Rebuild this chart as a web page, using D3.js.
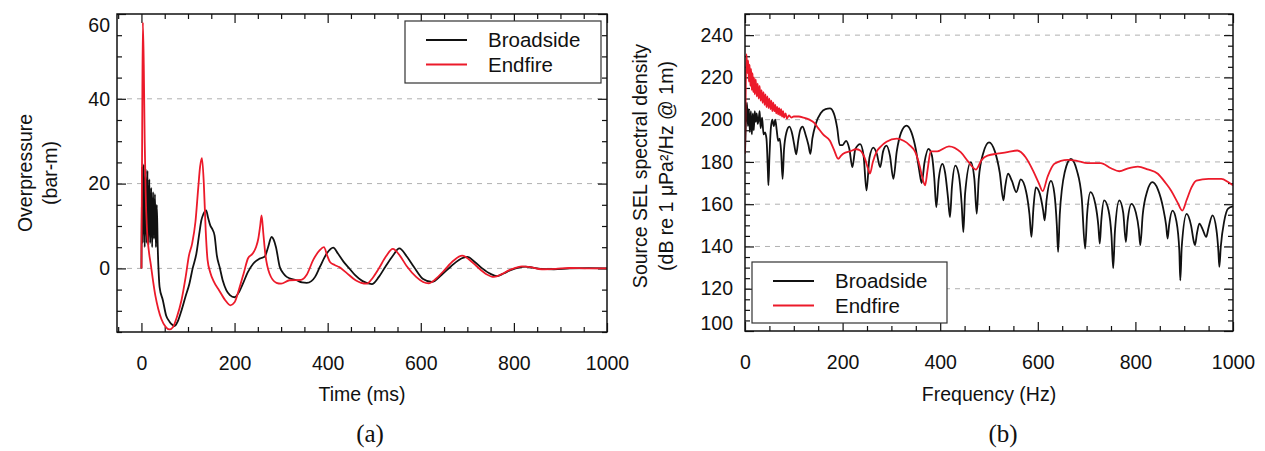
<!DOCTYPE html>
<html><head><meta charset="utf-8">
<script src="https://cdn.jsdelivr.net/npm/d3@7"></script>
<style>
body{margin:0;background:#fff;}
svg text{font-family:"Liberation Sans",Arial,Helvetica,sans-serif;fill:#111;}
</style></head><body>
<svg id="chart" width="1265" height="451"></svg>
<script>
// ---------- data ----------
const seriesNames = ["Broadside", "Endfire"];
const timeTicks = [0, 200, 400, 600, 800, 1000];
const pressureTicks = [0, 20, 40, 60];
const freqTicks = [0, 200, 400, 600, 800, 1000];
const selTicks = [100, 120, 140, 160, 180, 200, 220, 240];
const panelLabels = ["(a)", "(b)"];

// Overpressure (bar-m) vs time (ms)
const broadsideTime = [[0,0],[1.5,24],[3,6],[5,24.5],[7,5],[9,23.5],[11,6],[13,23],[15,5.5],[17,21],[19,6],[21,19],[23,5],[25,18],[27,7],[29,17.5],[31,5],[33,15],[35,5],[37,-1],[39,-4.4],[46,-7.5],[53,-11.1],[60,-12.5],[64,-13.1],[71,-13.6],[78,-12.5],[85.5,-10.1],[95,-6.5],[103,-3.6],[110,0],[118,3.5],[124,8],[128.6,11.3],[133,12.8],[139,13.7],[143,12],[148,10.1],[152,9.3],[157,7.8],[162,3],[168,0.3],[175,-3],[182.5,-5.2],[190,-6.3],[200,-6.8],[210,-5.5],[218,-3.6],[228,-1],[240,1.1],[254,2.3],[265,2.8],[272,5],[279.5,7.4],[284,6.8],[289,5],[297,0.4],[305,-1.2],[312,-2],[333,-2.8],[345,-3.3],[355,-3.4],[365,-3],[373,-2],[383.5,0.4],[398,3.5],[412,4.9],[422,3.5],[434,1.6],[445,0.2],[459,-1.6],[475,-3],[495,-3.7],[510,-2],[524,0.4],[540,3],[554,4.7],[570,2.8],[585,0.4],[605,-2.5],[624,-3.2],[645,-1.5],[664,0.4],[682,2],[700,2.7],[716,1.5],[732,0],[750,-1.3],[764,-1.8],[778,-1.2],[793,-0.4],[810,0.2],[825,0.4],[840,0.2],[857,-0.1],[886,-0.2],[920,0],[960,0.05],[1000,0]];
const endfireTime = [[0,0],[1.5,30],[3,58],[5,48],[7,30],[9,18],[12,9],[16,4],[20,1],[25,-3],[30,-6.5],[36,-9.5],[43,-12],[52,-13.8],[60,-14.4],[68,-13.8],[76,-11.5],[86,-7.5],[95,-2],[102,3],[109,5.9],[116,11],[122,19],[126,24],[130,26],[134,20],[138,9],[142,2],[148,-1],[155,-3],[167,-5.2],[180,-7.5],[191,-8.7],[200,-8],[211,-4.4],[220,-1],[229,2.4],[239,3.5],[246,5],[251,7],[255,10],[258,12.5],[262,8],[266,3.5],[275,-1.2],[290,-3.4],[300,-3.6],[318,-2.8],[343,-2.7],[355,-1.5],[369,2],[383,4.3],[392,5],[399,3],[405,1.5],[415,0.8],[425,0.3],[440,-1],[460,-2.8],[472,-3.4],[484,-3.6],[497,-2.2],[510,0],[525,2.8],[540,4.6],[555,3],[570,0.5],[590,-2],[605,-3.2],[617,-3.5],[632,-2.5],[650,-0.5],[670,1.8],[689,3],[705,2],[720,0.5],[740,-1.3],[757,-2],[775,-1.3],[790,-0.4],[805,0.2],[818,0.5],[835,0.3],[860,-0.2],[890,-0.1],[920,0.1],[960,0],[1000,0]];

// Source SEL spectral density (dB) vs frequency (Hz)
const broadsideFreq = [[0,184],[2,200],[4,208],[6,197],[8,205],[10,194],[12,204],[14,193],[16,203],[18,195],[20,204],[22,199],[24,203],[26,198],[28,200],[30,204],[32,196],[35,201],[38,193],[41,194],[44,191],[47,175],[48,169],[50,182],[53,196],[56,200],[59,197],[62,200],[65,195],[68,190],[71,191],[74,185],[77,172],[80,186],[85,194],[91,196.7],[97,193],[101,188],[105,183.6],[109,190],[113,195],[118,196.7],[124,193],[130,188],[134,183.8],[138,191],[145,198],[155,203],[165,205],[174,205.3],[182,203],[189,196],[194,188],[200,188],[207,190],[214,186],[220,177.5],[226,186],[236,188.4],[243,183],[249,166.5],[255,182],[263,186.8],[270,184],[277,177.5],[283,185],[290,187.7],[297,183],[304,172],[311,185],[320,194],[331,197.2],[341,194],[350,186],[357,176],[362,170],[368,180],[376,186.2],[383,183],[388,172],[392,158.6],[397,172],[404.5,179.1],[410,175],[416,163],[420,153.9],[424,168],[431,178.3],[438,174],[444,160],[447.5,146.8],[451,165],[462.6,179.9],[470,172],[474.9,155.5],[479,172],[488,184],[500,189.3],[512,185],[522,175],[529.6,161.8],[533,168],[539,174.4],[547,171],[556,165.7],[565,171.7],[576,166],[583,155],[587,144.5],[591,158],[596,168],[604,165],[611,157],[614,152.4],[618,162],[627,171],[634,165],[639,150],[641.6,137.4],[645,155],[655,175],[667.7,181.4],[680,176],[690,163],[697,139],[701,155],[708,165.7],[718,160],[724,150],[727,141.4],[730,152],[736,161.8],[745,157],[751,145],[754.5,129.6],[758,147],[767,161.8],[775,156],[780.5,142.1],[784,152],[792,160.2],[801,156],[807,148],[810,140.6],[815,155],[824,166],[835,170.4],[846,167],[857,158],[863,150],[866,143.7],[869,150],[876,157],[884,152],[890,138],[892,124],[895,140],[905,155.4],[914,150],[920,142],[922,140.6],[926,146],[931,150.8],[938,148],[945,144.5],[950,149],[958,154.7],[966,148],[970,138],[972,130.3],[975,140],[982,152],[990,157.9],[1000,159]];
const endfireFreq = [[0,184],[1.5,215],[3,231],[5,222],[6.5,228],[8,218],[9.5,226],[11,216],[12.5,224],[14,214],[15.5,222],[17,213],[18.5,220],[20,212],[22,219],[24,211],[26,217],[28,210],[30,216],[32,209],[34,214],[36,208],[38,213],[40,207],[42,212],[44,206],[46,211],[48,205.5],[50,210],[52,205],[54,209],[56,204],[58,208],[60,204],[62,207],[64,203],[66,206],[68,202.5],[70,205.5],[72,202],[74,205],[76,201.5],[78,204],[80,201],[83,203],[86,200.5],[90,202],[95,201],[100,201.5],[110,201.5],[120,201],[132,200],[142,198.5],[150,196],[160,193],[174,190],[182,186],[191,181.5],[197,183],[202,184],[215,185],[228,186],[236,185.4],[245,182],[252,177],[256,174.5],[262,180],[270,185],[277,187],[290,189.5],[311,191],[325,190],[337,188],[349,184.6],[358,178],[364,172],[369,168.9],[374,176],[380.5,185],[394,185],[418,187.4],[442,184.6],[458,180],[473,176.4],[485,181],[497,183],[520,184],[540,184.8],[558,185.4],[575,182.2],[590,176],[602,170],[610,166.2],[620,173],[634,179.1],[661,181],[680,180.5],[702,179.4],[729,179.4],[750,177],[767,175.6],[785,177],[805,177.8],[825,176.5],[846,174.4],[862,170],[873,166.5],[886,161],[896,157],[905,162],[915,168],[925,171.2],[950,172],[976,172],[990,170.5],[1000,168.9]];

// ---------- drawing ----------
const svg = d3.select("#chart");
const colors = ["#111111", "#ec1a2a"];
const FONT = 19.5;

function panel(cfg) {
  const x = d3.scaleLinear().domain(cfg.xDomain).range([cfg.left, cfg.right]);
  const y = d3.scaleLinear().domain(cfg.yDomain).range([cfg.bottom, cfg.top]);
  const g = svg.append("g");
  const clipId = "clip" + cfg.id;
  svg.append("defs").append("clipPath").attr("id", clipId)
    .append("rect").attr("x", cfg.left).attr("y", cfg.top)
    .attr("width", cfg.right - cfg.left).attr("height", cfg.bottom - cfg.top);

  // dashed grid
  g.append("g").selectAll("line").data(cfg.yTicks.filter(v => v > cfg.yDomain[0] && v < cfg.yDomain[1]))
    .join("line")
    .attr("x1", cfg.left).attr("x2", cfg.right)
    .attr("y1", d => y(d)).attr("y2", d => y(d))
    .attr("stroke", "#b0b0b0").attr("stroke-width", 1).attr("stroke-dasharray", "5,5");

  const xMinor = d3.range(Math.ceil(cfg.xDomain[0] / 50) * 50, cfg.xDomain[1] + 0.1, 50).filter(v => !cfg.xTicks.includes(v));
  const yMinor = d3.range(cfg.yDomain[0], cfg.yDomain[1] + 0.1, 5).filter(v => !cfg.yTicks.includes(v));
  const MAJ = 9, MIN = 5;
  const clean = s => { s.select(".domain").remove(); s.selectAll("line").attr("stroke", "#111").attr("stroke-width", 1.2); };

  // bottom
  g.append("g").attr("transform", `translate(0,${cfg.bottom})`)
    .call(d3.axisBottom(x).tickValues(cfg.xTicks).tickSize(-MAJ).tickPadding(24).tickFormat(d3.format("d")))
    .call(clean)
    .call(s => s.selectAll("text").attr("font-size", FONT).attr("font-family", null).attr("fill", "#111"));
  g.append("g").attr("transform", `translate(0,${cfg.bottom})`)
    .call(d3.axisBottom(x).tickValues(xMinor).tickSize(-MIN).tickFormat("")).call(clean);
  // top
  g.append("g").attr("transform", `translate(0,${cfg.top})`)
    .call(d3.axisTop(x).tickValues(cfg.xTicks).tickSize(-MAJ).tickFormat("")).call(clean);
  g.append("g").attr("transform", `translate(0,${cfg.top})`)
    .call(d3.axisTop(x).tickValues(xMinor).tickSize(-MIN).tickFormat("")).call(clean);
  // left
  g.append("g").attr("transform", `translate(${cfg.left},0)`)
    .call(d3.axisLeft(y).tickValues(cfg.yTicks).tickSize(-MAJ).tickPadding(cfg.yPad).tickFormat(d3.format("d")))
    .call(clean)
    .call(s => s.selectAll("text").attr("font-size", FONT).attr("font-family", null).attr("fill", "#111")
      .attr("y", d => {
        const p = y(d);
        if (p < cfg.top + 11) return cfg.top + 11 - p;
        if (p > cfg.bottom - 8) return cfg.bottom - 8 - p;
        return 0;
      }));
  g.append("g").attr("transform", `translate(${cfg.left},0)`)
    .call(d3.axisLeft(y).tickValues(yMinor).tickSize(-MIN).tickFormat("")).call(clean);
  // right
  g.append("g").attr("transform", `translate(${cfg.right},0)`)
    .call(d3.axisRight(y).tickValues(cfg.yTicks).tickSize(-MAJ).tickFormat("")).call(clean);
  g.append("g").attr("transform", `translate(${cfg.right},0)`)
    .call(d3.axisRight(y).tickValues(yMinor).tickSize(-MIN).tickFormat("")).call(clean);

  // series
  const line = d3.line().x(d => x(d[0])).y(d => y(d[1])).curve(d3.curveMonotoneX);
  const lg = g.append("g").attr("clip-path", `url(#${clipId})`);
  cfg.series.forEach((s, i) => {
    lg.append("path").attr("d", line(s)).attr("fill", "none")
      .attr("stroke", colors[i]).attr("stroke-width", 1.8)
      .attr("stroke-linejoin", "round");
  });

  // frame
  g.append("rect").attr("x", cfg.left).attr("y", cfg.top)
    .attr("width", cfg.right - cfg.left).attr("height", cfg.bottom - cfg.top)
    .attr("fill", "none").attr("stroke", "#111").attr("stroke-width", 1.5);

  // legend
  const L = cfg.legend;
  const leg = g.append("g");
  leg.append("rect").attr("x", L.x).attr("y", L.y).attr("width", L.w).attr("height", L.h)
    .attr("fill", "#fff").attr("stroke", "#333").attr("stroke-width", 1.2);
  seriesNames.forEach((n, i) => {
    const yy = L.y + 19 + i * 24.5;
    leg.append("line").attr("x1", L.x + 21).attr("x2", L.x + 62).attr("y1", yy).attr("y2", yy)
      .attr("stroke", colors[i]).attr("stroke-width", 1.8);
    leg.append("text").attr("x", L.x + 83).attr("y", yy).attr("dy", "0.35em")
      .attr("font-size", 20.5).text(n);
  });

  // axis titles
  g.append("text").attr("x", (cfg.left + cfg.right) / 2).attr("y", 401)
    .attr("text-anchor", "middle").attr("font-size", FONT).text(cfg.xTitle);
  cfg.yTitle.forEach((t, i) => {
    g.append("text")
      .attr("transform", `translate(${cfg.yTitleX[i]},${cfg.yTitleY}) rotate(-90)`)
      .attr("text-anchor", "middle").attr("dy", "0.35em").attr("font-size", FONT).text(t);
  });
  g.append("text").attr("x", cfg.labelX).attr("y", 442).attr("text-anchor", "middle")
    .attr("font-size", 25).style("font-family", '"Liberation Serif","Times New Roman",serif')
    .text(cfg.label);
}

panel({
  id: "a", left: 117, right: 607, top: 14, bottom: 332,
  xDomain: [-52.5, 1000], yDomain: [-15, 60],
  xTicks: timeTicks, yTicks: pressureTicks, yPad: 7,
  series: [broadsideTime, endfireTime],
  legend: { x: 405, y: 21, w: 196, h: 62 },
  xTitle: "Time (ms)", yTitle: ["Overpressure", "(bar-m)"], yTitleX: [25, 50], yTitleY: 173,
  label: panelLabels[0], labelX: 370
});
panel({
  id: "b", left: 745, right: 1233, top: 14, bottom: 331,
  xDomain: [0, 1000], yDomain: [100, 250],
  xTicks: freqTicks, yTicks: selTicks, yPad: 12,
  series: [broadsideFreq, endfireFreq],
  legend: { x: 752, y: 262, w: 195, h: 61 },
  xTitle: "Frequency (Hz)", yTitle: ["Source SEL spectral density", "(dB re 1 μPa²/Hz @ 1m)"], yTitleX: [640, 666], yTitleY: 166,
  label: panelLabels[1], labelX: 1003
});
</script>
</body></html>
